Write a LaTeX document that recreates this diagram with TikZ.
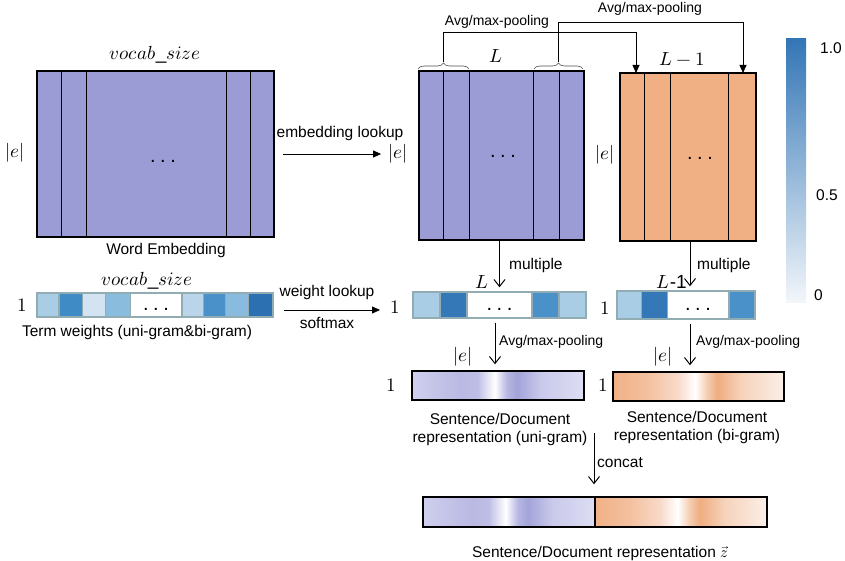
\documentclass[tikz,border=0pt]{standalone}
\usepackage{fontspec}
\usepackage{unicode-math}
\setmainfont{Liberation Sans}
\setmathfont{Latin Modern Math}
\usetikzlibrary{arrows.meta,decorations.pathreplacing,calc}

% matrix fills
\definecolor{embfill}{HTML}{9B9BD6}
\definecolor{orgfill}{HTML}{F0B083}
\definecolor{cellline}{HTML}{92ACB4}
% term-weight cell colours
\definecolor{wA}{HTML}{A9CDE4}
\definecolor{wB}{HTML}{3E8BC5}
\definecolor{wC}{HTML}{D3E3F1}
\definecolor{wD}{HTML}{8ABCDD}
\definecolor{wE}{HTML}{BAD4EA}
\definecolor{wF}{HTML}{4A91C9}
\definecolor{wG}{HTML}{88BBDD}
\definecolor{wH}{HTML}{2D70B1}
\definecolor{wK}{HTML}{3478B7}
% colour bar
\definecolor{cbTop}{HTML}{3376B6}
\definecolor{cbMid}{HTML}{A9CAE3}
\definecolor{cbBot}{HTML}{F2F6FA}
% uni-gram representation
\definecolor{uA}{HTML}{CFCFEE}
\definecolor{uB}{HTML}{B9B9E3}
\definecolor{uC}{HTML}{BDBDE5}
\definecolor{uD}{HTML}{FFFFFF}
\definecolor{uE}{HTML}{B8B8E3}
\definecolor{uF}{HTML}{A3A3D9}
\definecolor{uG}{HTML}{C9C9EB}
\definecolor{uH}{HTML}{DDDDF3}
% bi-gram representation
\definecolor{bA}{HTML}{F0B187}
\definecolor{bB}{HTML}{F3C09E}
\definecolor{bC}{HTML}{F8DACA}
\definecolor{bD}{HTML}{FFFFFF}
\definecolor{bE}{HTML}{F5CDB2}
\definecolor{bF}{HTML}{EFAD80}
\definecolor{bG}{HTML}{F6D2BA}
\definecolor{bH}{HTML}{FBEFE8}

\pgfdeclarehorizontalshading{unishade}{100bp}{color(0bp)=(uA); color(25bp)=(uA);
  color(39bp)=(uB); color(44bp)=(uC); color(49bp)=(uD); color(52.5bp)=(uE);
  color(55.5bp)=(uF); color(62.5bp)=(uG); color(75bp)=(uH); color(100bp)=(uH)}
\pgfdeclarehorizontalshading{bishade}{100bp}{color(0bp)=(bA); color(25bp)=(bA);
  color(35bp)=(bB); color(44bp)=(bC); color(49bp)=(bD); color(52.5bp)=(bE);
  color(55.5bp)=(bF); color(62.5bp)=(bG); color(75bp)=(bH); color(100bp)=(bH)}

% spaced ellipsis for the elided columns / cells
\newcommand{\elide}{.\hspace{4.5pt}.\hspace{4.5pt}.}

\tikzset{
  lbl/.style={font=\fontsize{15.5}{18}\selectfont, inner sep=1pt},
  pl/.style={font=\fontsize{14}{16}\selectfont, inner sep=1pt},
  mth/.style={font=\fontsize{19}{22}\selectfont, inner sep=1pt},
  dotsy/.style={font=\fontsize{20}{22}\selectfont, inner sep=1pt},
  bigbox/.style={draw=black, line width=1.6pt, inner sep=0pt},
  col/.style={line width=0.9pt},
  cell/.style={draw=cellline, line width=1.4pt},
  cellbar/.style={draw=cellline, line width=1.4pt, inner sep=0pt},
  repbar/.style={draw=black, line width=1.4pt, inner sep=0pt},
  tri/.style={-{Triangle[length=8pt,width=7pt]}, line width=0.8pt},
  vee/.style={-{Straight Barb[length=7pt,width=11pt]}, line width=1pt},
  brc/.style={decorate, decoration={brace, amplitude=6pt}, line width=0.6pt, draw=black!70},
}

\begin{document}
\begin{tikzpicture}[x=1pt,y=-1pt]
\useasboundingbox (0,0) rectangle (845,561);

% ---------------- word embedding matrix ----------------
\node[bigbox, fill=embfill, minimum width=237pt, minimum height=166pt] (emb) at (155.5,154) {};
\foreach \x in {61,86,226,250} \draw[col] (\x,71) -- (\x,237);
\node[mth] (vs1) at (155,55) {$vocab\_size$};
\node[mth] (e1) at (15,153) {$|e|$};
\node[dotsy] (d1) at (163,161) {\elide};
\node[lbl] (we) at (166,250) {Word Embedding};

% ---------------- uni-gram lookup matrix ----------------
\node[bigbox, fill=embfill, minimum width=165pt, minimum height=169pt] (Lm) at (501.5,155.5) {};
\foreach \x in {443,469,533,559} \draw[col] (\x,71) -- (\x,240);
\node[mth] (e2) at (398,154) {$|e|$};
\node[dotsy] (d2) at (503,156) {\elide};
\node[mth] (Ll) at (496,56) {$L$};

% ---------------- bi-gram matrix ----------------
\node[bigbox, fill=orgfill, minimum width=136pt, minimum height=168pt] (Om) at (688,157) {};
\foreach \x in {644,670,728} \draw[col] (\x,73) -- (\x,241);
\node[mth] (e3) at (605,155) {$|e|$};
\node[dotsy] (d3) at (700,158) {\elide};
\node[mth] (L1l) at (682,59) {$L-1$};

% embedding lookup
\draw[tri] ([xshift=8pt]emb.east) -- ([xshift=-6pt]e2.west);
\node[lbl] (el) at (340,133) {embedding lookup};

% pooling of neighbouring columns into bi-gram columns
\draw[brc] (418,69) -- (469,69);
\draw[brc] (534,69) -- (583,69);
\coordinate (bl) at (443.5,62);
\coordinate (br) at (558.5,62);
\coordinate (oin1) at (636,73);
\coordinate (oin2) at (743,73);
\draw[tri] (bl) -- ++(0,-30) -| (oin1);
\draw[tri] (br) -- ++(0,-40) -| (oin2);
\node[pl] (ap1) at (497,22) {Avg/max-pooling};
\node[pl] (ap2) at (650,9) {Avg/max-pooling};

% ---------------- term weights ----------------
\foreach \a/\b/\c in {37/59/wA, 59/82.5/wB, 82.5/105.5/wC, 105.5/130.5/wD, 130.5/182/white,
                      182/203.5/wE, 203.5/225.5/wF, 225.5/248.5/wG, 248.5/273/wH}
  \filldraw[cell, fill=\c] (\a,293) rectangle (\b,317);
\node[cellbar, minimum width=236pt, minimum height=24pt] (tw) at (155,305) {};
\node[dotsy] (d4) at (156,309) {\elide};
\node[mth] (o1) at (22,305) {$1$};
\node[mth] (vs2) at (147,281) {$vocab\_size$};
\node[lbl] (twc) at (137,332) {Term weights (uni-gram\&bi-gram)};

\draw[tri] ([shift={(10pt,-5pt)}]tw.east) -- (380,310);
\node[lbl] (wl) at (327,292) {weight lookup};
\node[lbl] (sm) at (327,323) {softmax};

% uni-gram weights
\foreach \a/\b/\c in {413/440/wA, 440/467/wK, 467/532/white, 532/559/wF, 559/586/wA}
  \filldraw[cell, fill=\c] (\a,292) rectangle (\b,318);
\node[cellbar, minimum width=173pt, minimum height=26pt] (mw) at (499.5,305) {};
\node[dotsy] (d5) at (499.5,309) {\elide};
\node[mth] (o2) at (395,307) {$1$};

% bi-gram weights
\foreach \a/\b/\c in {617/641.5/wA, 641.5/667.5/wK, 667.5/729/white, 729/755/wF}
  \filldraw[cell, fill=\c] (\a,291) rectangle (\b,319);
\node[cellbar, minimum width=138pt, minimum height=28pt] (rw) at (686,305) {};
\node[dotsy] (d6) at (698,309) {\elide};
\node[mth] (o3) at (605,308) {$1$};

% multiply
\draw[vee] ([xshift=-2pt]Lm.south) -- ([xshift=-2pt,yshift=4pt]Lm.south |- mw.north);
\node[lbl, anchor=west] (mu1) at (508,265) {multiple};
\node[mth] (Lw) at (482,282) {$L$};
\draw[vee] ([xshift=2pt]Om.south) -- ([xshift=2pt,yshift=4pt]Om.south |- rw.north);
\node[lbl, anchor=west] (mu2) at (696,265) {multiple};
\node[mth, anchor=east] (L1w) at (688,282) {$L$-1};

% ---------------- sentence representations ----------------
\node[repbar, shade, shading=unishade, minimum width=172pt, minimum height=29pt] (uni) at (498,385.5) {};
\node[repbar, shade, shading=bishade, minimum width=171pt, minimum height=29pt] (bi) at (698.5,386.5) {};
\node[mth] (o4) at (391,385) {$1$};
\node[mth] (o5) at (603,385) {$1$};

\draw[vee] ([shift={(-4.5pt,-4pt)}]mw.south) -- ([shift={(-4.5pt,6pt)}]mw.south |- uni.north);
\node[pl, anchor=west] (ap3) at (498,342) {Avg/max-pooling};
\node[mth] (e4) at (463,357) {$|e|$};
\draw[vee] ([shift={(4pt,-4pt)}]rw.south) -- ([shift={(4pt,6pt)}]rw.south |- bi.north);
\node[pl, anchor=west] (ap4) at (695,342) {Avg/max-pooling};
\node[mth] (e5) at (663,357) {$|e|$};

\node[lbl, align=center] (uc) at (500,429) {Sentence/Document\\representation (uni-gram)};
\node[lbl, align=center] (bc) at (697,427) {Sentence/Document\\representation (bi-gram)};

% ---------------- concatenation ----------------
\node[repbar, shade, shading=unishade, minimum width=172pt, minimum height=30pt] (finL) at (509,512) {};
\node[repbar, shade, shading=bishade, minimum width=172pt, minimum height=30pt] (finR) at (681,512) {};
\coordinate (cs) at (594,433);
\draw[vee] (cs) -- ([yshift=12pt]cs |- finL.north);
\node[lbl, anchor=west] (cc) at (596,463) {concat};
\node[lbl] (fz) at (600,553) {Sentence/Document representation $\vec{z}$};

% ---------------- colour bar ----------------
\node[inner sep=0pt, top color=cbTop, middle color=cbMid, bottom color=cbBot,
      minimum width=20pt, minimum height=263pt] (cb) at (796,170.5) {};
\node[lbl, anchor=west] (c10) at (819,48) {1.0};
\node[lbl, anchor=west] (c05) at (815,195) {0.5};
\node[lbl, anchor=west] (c00) at (813,295) {0};
\end{tikzpicture}
\end{document}
